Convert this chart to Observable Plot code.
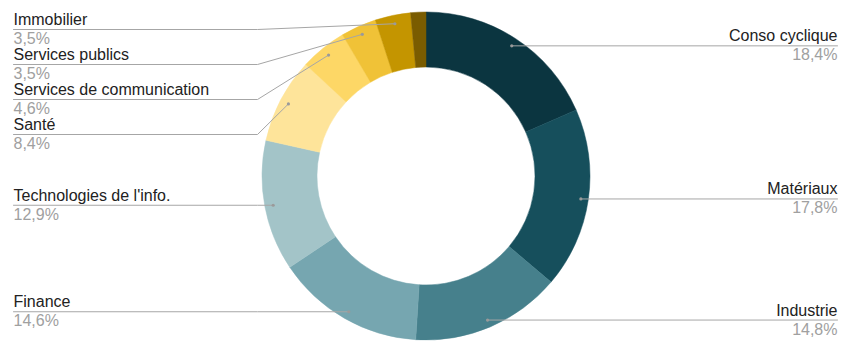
<!DOCTYPE html>
<html><head><meta charset="utf-8">
<script src="https://cdn.jsdelivr.net/npm/d3@7"></script>
<script src="https://cdn.jsdelivr.net/npm/@observablehq/plot@0.6"></script>
<style>
html,body{margin:0;padding:0;background:#fff;}
#chart{width:850px;height:343px;}
</style>
</head><body><div id="chart"></div>
<script>
// ---- data ----
const categories = ["Conso cyclique","Matériaux","Industrie","Finance","Technologies de l'info.","Santé","Services de communication","Services publics","Immobilier","Autres"];
const values = [18.4,17.8,14.8,14.6,12.9,8.4,4.6,3.5,3.5,1.5];
const labeled = [true,true,true,true,true,true,true,true,true,false];
const palette = ["#0b3540","#164f5c","#46808c","#76a6b0","#a3c4c8","#fee49a","#fdd766","#f0c237","#c49500","#7a5c00"];

// ---- layout (styles) ----
const W = 850, H = 343;
const CX = 426, CY = 176, R_OUT = 164, R_IN = 109, R_DOT = 156;
const LEFT_X = 13, RIGHT_X = 837, ELBOW_X = 257, TOP_Y = 29, GAP = 35;
const FONT = "'Liberation Sans', Arial, sans-serif";

const slices = categories.map((c, i) => ({category: c, value: values[i], labeled: labeled[i]}));
const arcs = d3.pie().sort(null).value(d => d.value)(slices);
const total = d3.sum(values);
const fmt = v => (v / total * 100).toFixed(1).replace(".", ",") + "%";

const labels = arcs.filter(a => a.data.labeled).map(a => {
  const mid = (a.startAngle + a.endAngle) / 2;
  return {
    name: a.data.category, pct: fmt(a.data.value),
    side: mid < Math.PI ? "right" : "left",
    dx: CX + Math.sin(mid) * R_DOT, dy: CY - Math.cos(mid) * R_DOT
  };
});
// right side: label at dot height
labels.filter(d => d.side === "right").forEach(d => { d.ly = d.dy; d.tx = RIGHT_X; });
// left side: stack to avoid overlaps
let prev = -Infinity;
labels.filter(d => d.side === "left").sort((a, b) => a.dy - b.dy).forEach(d => {
  d.ly = Math.max(d.dy, prev + GAP, TOP_Y); prev = d.ly; d.tx = LEFT_X;
});
const paths = [];
labels.forEach((d, i) => {
  const pts = d.side === "right"
    ? [[d.dx, d.dy], [RIGHT_X, d.ly]]
    : [[d.dx, d.dy], [ELBOW_X, d.ly], [LEFT_X, d.ly]];
  pts.forEach(p => paths.push({id: i, x: p[0], y: p[1]}));
});

const colorScale = Plot.scale({color: {type: "ordinal", domain: categories, range: palette}});

const donut = (index, scales) => {
  const sx = scales.x, sy = scales.y;
  const col = c => colorScale.apply(c);
  const g = d3.create("svg:g").attr("transform", `translate(${sx(CX)},${sy(CY)})`);
  const arc = d3.arc().innerRadius(R_IN).outerRadius(R_OUT);
  g.selectAll("path").data(arcs).join("path")
    .attr("d", arc).attr("fill", d => col(d.data.category))
    .attr("stroke", d => col(d.data.category)).attr("stroke-width", 0.5);
  return g.node();
};

const L = labels.filter(d => d.side === "left"), R = labels.filter(d => d.side === "right");
const textOpts = (anchor) => ({x: "tx", textAnchor: anchor, fontSize: 16, lineAnchor: "bottom"});

const chart = Plot.plot({
  width: W, height: H, margin: 0,
  x: {domain: [0, W], range: [0, W], axis: null},
  y: {domain: [0, H], range: [0, H], axis: null},
  style: {fontFamily: FONT, background: "#fff"},
  marks: [
    donut,
    Plot.line(paths, {x: "x", y: "y", z: "id", stroke: "#a6a6a6", strokeWidth: 1}),
    Plot.dot(labels, {x: "dx", y: "dy", r: 1.6, fill: "#9a9a9a"}),
    Plot.text(L, {...textOpts("start"), y: d => d.ly - 4.5, text: "name", fill: "#222"}),
    Plot.text(L, {...textOpts("start"), y: d => d.ly + 14.5, text: "pct", fill: "#a0a0a0"}),
    Plot.text(R, {...textOpts("end"), y: d => d.ly - 4.5, text: "name", fill: "#222"}),
    Plot.text(R, {...textOpts("end"), y: d => d.ly + 14.5, text: "pct", fill: "#a0a0a0"})
  ]
});
document.getElementById("chart").appendChild(chart);
</script>
</body></html>
